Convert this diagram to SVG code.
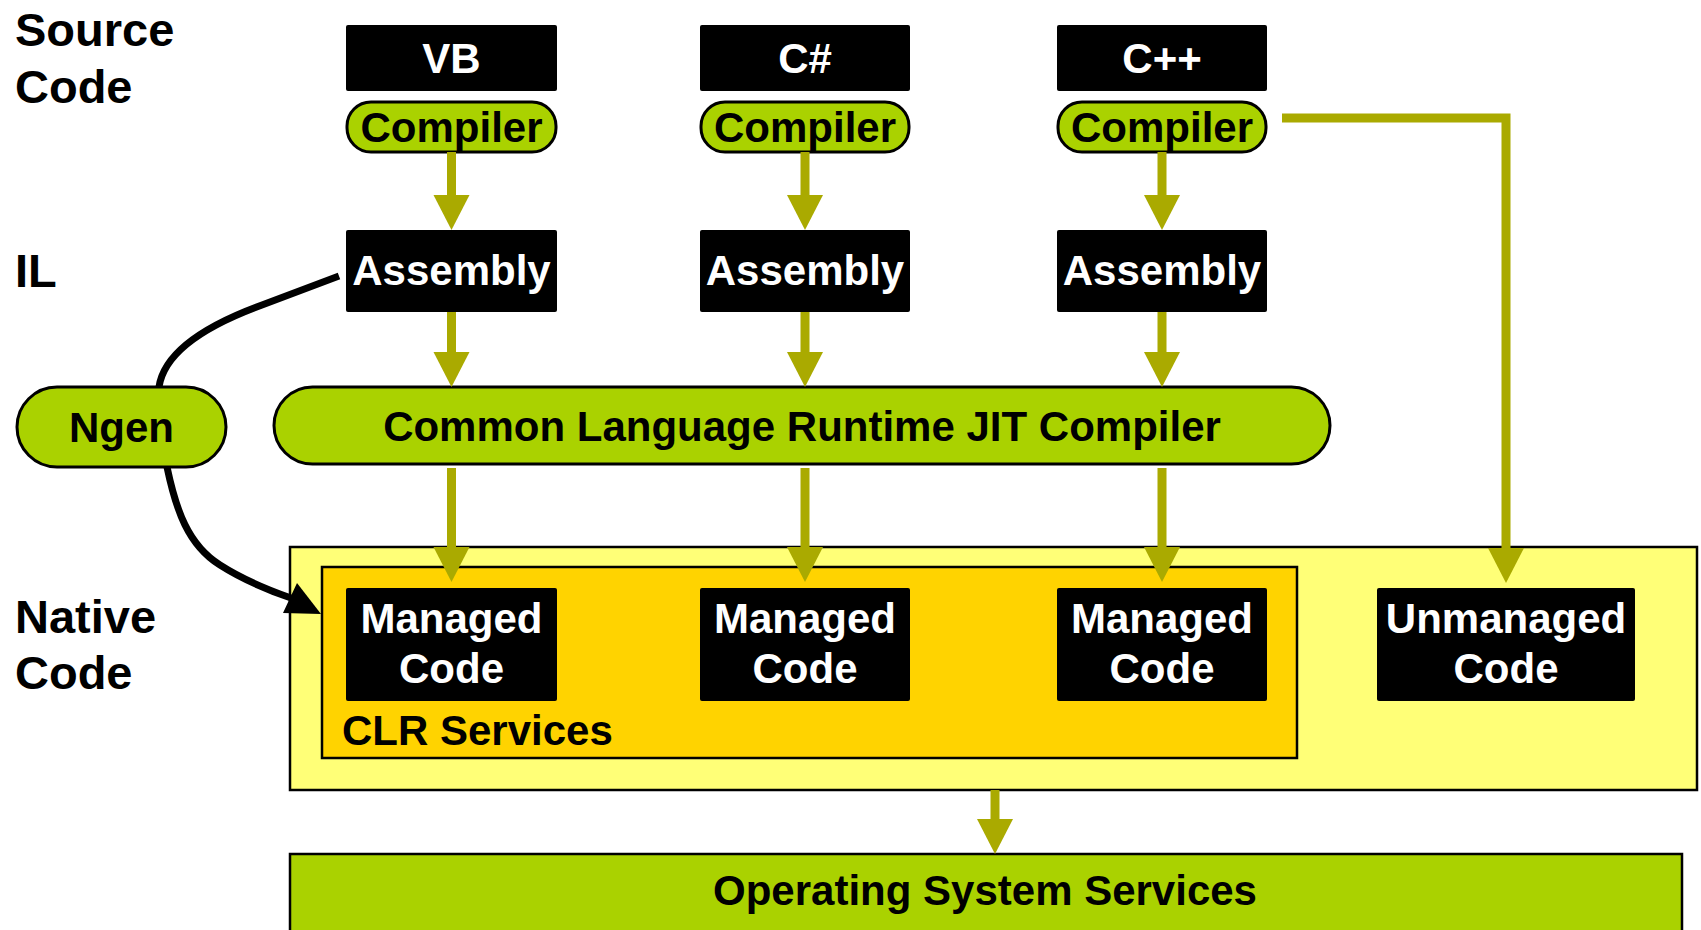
<svg xmlns="http://www.w3.org/2000/svg" xmlns:xlink="http://www.w3.org/1999/xlink" width="1701" height="930" viewBox="0 0 1701 930">
<style>
text{font-family:"Liberation Sans",Arial,Helvetica,sans-serif;font-weight:bold;font-size:42px}
.lbl{font-size:47px;fill:#000}
.wt{fill:#fff;text-anchor:middle}
.bt{fill:#000;text-anchor:middle}
.blk{fill:#000}
.pill{fill:#AAD200;stroke:#000;stroke-width:3}
.ol{stroke:#AAAA00;stroke-width:9;fill:none}
.ah{fill:#AAAA00}
.bc{stroke:#000;stroke-width:7;fill:none}
</style>
<defs>
<polygon id="ah" points="-18,0 18,0 0,35"/>
</defs>
<rect width="1701" height="930" fill="#fff"/>
<g id="row-labels">
<text class="lbl" x="15" y="46">Source</text>
<text class="lbl" x="15" y="103">Code</text>
<text class="lbl" x="15" y="287">IL</text>
<text class="lbl" x="15" y="633">Native</text>
<text class="lbl" x="15" y="689">Code</text>
</g>
<g id="native-area">
<rect x="290" y="547" width="1407" height="243" fill="#FFFF77" stroke="#000" stroke-width="2.5"/>
</g>
<g id="clr-services">
<rect x="322" y="567" width="975" height="191" fill="#FFD300" stroke="#000" stroke-width="2.5"/>
<text x="342" y="745" fill="#000">CLR Services</text>
</g>
<g id="os">
<rect x="290" y="854" width="1392" height="90" fill="#AAD200" stroke="#000" stroke-width="2.5"/>
<text class="bt" x="985" y="905">Operating System Services</text>
</g>
<g id="vb">
<rect class="blk" x="346" y="25" width="211" height="66" rx="2"/>
<text class="wt" x="451.5" y="73">VB</text>
</g>
<g id="cs">
<rect class="blk" x="700" y="25" width="210" height="66" rx="2"/>
<text class="wt" x="805" y="73">C#</text>
</g>
<g id="cpp">
<rect class="blk" x="1057" y="25" width="210" height="66" rx="2"/>
<text class="wt" x="1162" y="73">C++</text>
</g>
<g id="vb-compiler">
<rect class="pill" x="347" y="102" width="209" height="50" rx="24"/>
<text class="bt" x="451.5" y="142">Compiler</text>
</g>
<g id="cs-compiler">
<rect class="pill" x="701" y="102" width="208" height="50" rx="24"/>
<text class="bt" x="805" y="142">Compiler</text>
</g>
<g id="cpp-compiler">
<rect class="pill" x="1058" y="102" width="208" height="50" rx="24"/>
<text class="bt" x="1162" y="142">Compiler</text>
</g>
<g id="vb-assembly">
<rect class="blk" x="346" y="230" width="211" height="82" rx="2"/>
<text class="wt" x="451.5" y="285">Assembly</text>
</g>
<g id="cs-assembly">
<rect class="blk" x="700" y="230" width="210" height="82" rx="2"/>
<text class="wt" x="805" y="285">Assembly</text>
</g>
<g id="cpp-assembly">
<rect class="blk" x="1057" y="230" width="210" height="82" rx="2"/>
<text class="wt" x="1162" y="285">Assembly</text>
</g>
<g id="ngen">
<rect class="pill" x="17" y="387" width="209" height="80" rx="40"/>
<text class="bt" x="121.5" y="442">Ngen</text>
</g>
<g id="jit">
<rect class="pill" x="274" y="387" width="1056" height="77" rx="38.5"/>
<text class="bt" x="802" y="441">Common Language Runtime JIT Compiler</text>
</g>
<g id="vb-managed">
<rect class="blk" x="346" y="588" width="211" height="113" rx="2"/>
<text class="wt" x="451.5" y="633">Managed</text>
<text class="wt" x="451.5" y="683">Code</text>
</g>
<g id="cs-managed">
<rect class="blk" x="700" y="588" width="210" height="113" rx="2"/>
<text class="wt" x="805" y="633">Managed</text>
<text class="wt" x="805" y="683">Code</text>
</g>
<g id="cpp-managed">
<rect class="blk" x="1057" y="588" width="210" height="113" rx="2"/>
<text class="wt" x="1162" y="633">Managed</text>
<text class="wt" x="1162" y="683">Code</text>
</g>
<g id="unmanaged">
<rect class="blk" x="1377" y="588" width="258" height="113" rx="2"/>
<text class="wt" x="1506" y="633">Unmanaged</text>
<text class="wt" x="1506" y="683">Code</text>
</g>
<g id="connectors">
<path class="ol" d="M451.5,152V197M805,152V197M1162,152V197"/>
<use href="#ah" class="ah" x="451.5" y="195"/>
<use href="#ah" class="ah" x="805" y="195"/>
<use href="#ah" class="ah" x="1162" y="195"/>
<path class="ol" d="M451.5,312V354M805,312V354M1162,312V354"/>
<use href="#ah" class="ah" x="451.5" y="352"/>
<use href="#ah" class="ah" x="805" y="352"/>
<use href="#ah" class="ah" x="1162" y="352"/>
<path class="ol" d="M451.5,468V549M805,468V549M1162,468V549"/>
<use href="#ah" class="ah" x="451.5" y="547"/>
<use href="#ah" class="ah" x="805" y="547"/>
<use href="#ah" class="ah" x="1162" y="547"/>
<path class="ol" d="M1282,118H1506V550"/>
<use href="#ah" class="ah" x="1506" y="548"/>
<path class="ol" d="M995,790V821"/>
<use href="#ah" class="ah" x="995" y="819"/>
<path class="bc" d="M339,276L262,305Q166,340 159,387"/>
<path class="bc" d="M167,467C176,510 188,545 220,565C245,581 268,590 291,598"/>
<polygon points="297,583 283,613 321,614" fill="#000"/>
</g>
</svg>
